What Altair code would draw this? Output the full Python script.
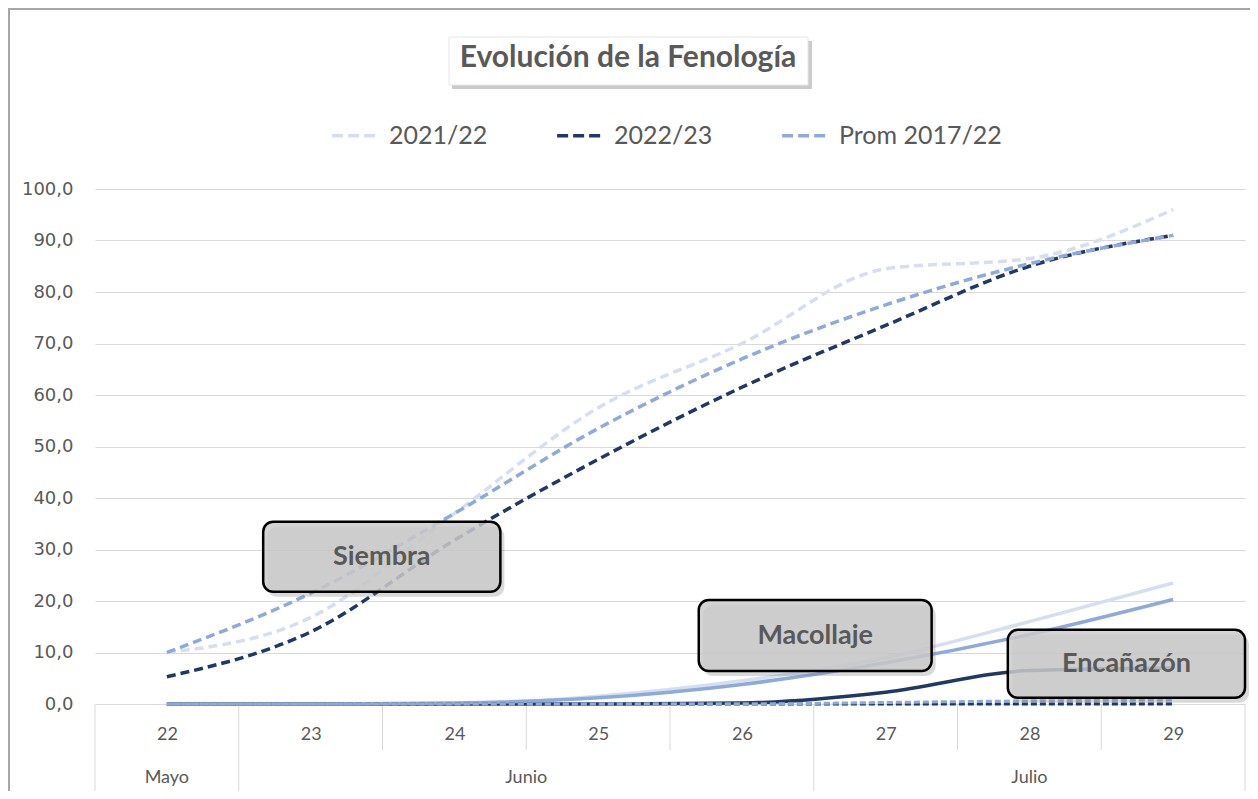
import altair as alt
import pandas as pd

# ---------------- data ----------------
days = ["22", "23", "24", "25", "26", "27", "28", "29"]
day_index = [0, 1, 2, 3, 4, 5, 6, 7]
months = ["Mayo", "Junio", "Julio"]
month_center = [0.0, 2.5, 6.0]
boundaries_full = [-0.5, 0.5, 4.5, 7.5]
boundaries_short = [1.5, 2.5, 3.5, 5.5, 6.5]

seasons = ["2021/22", "2022/23", "Prom 2017/22"]
season_colors = ["#d6dff1", "#203864", "#8eaadb"]

siembra_2122 = [10.0, 16.8, 37.0, 57.5, 70.0, 84.5, 86.5, 96.0]
siembra_2223 = [5.3, 14.0, 31.8, 47.5, 61.5, 73.5, 85.0, 91.0]
siembra_prom = [10.0, 21.5, 37.0, 53.5, 67.0, 77.5, 85.5, 91.0]

macollaje_2122 = [0.0, 0.0, 0.0, 1.5, 4.5, 9.0, 16.0, 23.5]
macollaje_2223 = [0.0, 0.0, 0.0, 0.0, 0.2, 2.3, 6.5, 7.0]
macollaje_prom = [0.0, 0.0, 0.2, 1.2, 3.8, 8.0, 13.5, 20.3]

encanazon_2122 = [0.0, 0.0, 0.0, 0.0, 0.0, 0.0, 0.2, 0.4]
encanazon_2223 = [0.0, 0.0, 0.0, 0.0, 0.0, 0.0, 0.0, 0.0]
encanazon_prom = [0.0, 0.0, 0.0, 0.0, 0.0, 0.3, 0.6, 0.8]

phases = ["Siembra", "Macollaje", "Encañazón"]
box_x1 = [0.67, 3.70, 5.85]
box_x2 = [2.32, 5.32, 7.50]
box_y1 = [21.8, 6.4, 1.2]
box_y2 = [35.4, 20.2, 14.4]

title_text = "Evolución  de la Fenología"

# ---------------- tables ----------------
def long_table(series):
    rows = []
    for season, vals in zip(seasons, series):
        for i, d, v in zip(day_index, days, vals):
            rows.append({"idx": i, "dia": d, "temporada": season, "valor": v})
    return pd.DataFrame(rows)

df_siembra = long_table([siembra_2122, siembra_2223, siembra_prom])
df_macollaje = long_table([macollaje_2122, macollaje_2223, macollaje_prom])
df_encanazon = long_table([encanazon_2122, encanazon_2223, encanazon_prom])

df_boxes = pd.DataFrame({
    "fase": phases, "x1": box_x1, "x2": box_x2, "y1": box_y1, "y2": box_y2,
    "xc": [(a + b) / 2 for a, b in zip(box_x1, box_x2)],
    "yc": [(a + b) / 2 for a, b in zip(box_y1, box_y2)],
})
df_months = pd.DataFrame({"mes": months, "pos": month_center})
df_bfull = pd.DataFrame({"pos": boundaries_full})
df_bshort = pd.DataFrame({"pos": boundaries_short})

W, H = 1150, 515
GREY_TXT = "#595959"
label_expr = "[" + ",".join("'%s'" % d for d in days) + "][datum.value]"

xscale = alt.Scale(domain=[-0.5, 7.5], nice=False, zero=False)
yscale = alt.Scale(domain=[0, 100], nice=False)

x_enc = alt.X("idx:Q", scale=xscale, axis=alt.Axis(
    values=day_index, labelExpr=label_expr, grid=False, ticks=False, domain=False,
    labelFont="Lato", labelFontSize=18, labelColor=GREY_TXT, labelPadding=21,
    title=None))
y_enc = alt.Y("valor:Q", scale=yscale, axis=alt.Axis(
    values=list(range(0, 101, 10)),
    labelExpr="replace(format(datum.value, '.1f'), '.', ',')",
    grid=True, gridColor="#d9d9d9", gridWidth=1, ticks=False, domain=False,
    labelFont="DejaVu Sans", labelFontSize=18, labelColor=GREY_TXT,
    labelPadding=22, title=None))

color_scale = alt.Scale(domain=seasons, range=season_colors)
color_enc = alt.Color("temporada:N", scale=color_scale, legend=alt.Legend(title=None))

siembra = alt.Chart(df_siembra).mark_line(
    strokeWidth=3.5, strokeDash=[9, 5], interpolate="monotone"
).encode(x=x_enc, y=y_enc, color=color_enc, detail="temporada:N")

macollaje = alt.Chart(df_macollaje).mark_line(
    strokeWidth=3.5, interpolate="monotone"
).encode(x="idx:Q", y="valor:Q", color=alt.Color("temporada:N", scale=color_scale, legend=None))

encanazon = alt.Chart(df_encanazon).mark_line(
    strokeWidth=3, strokeDash=[6, 3], interpolate="monotone"
).encode(x="idx:Q", y="valor:Q", color=alt.Color("temporada:N", scale=color_scale, legend=None))

# axis separators
sep_full = alt.Chart(df_bfull).mark_rule(color="#d9d9d9", strokeWidth=1).encode(
    x="pos:Q", y=alt.value(H), y2=alt.value(H + 92))
sep_short = alt.Chart(df_bshort).mark_rule(color="#d9d9d9", strokeWidth=1).encode(
    x="pos:Q", y=alt.value(H), y2=alt.value(H + 46))
month_text = alt.Chart(df_months).mark_text(
    font="Lato", fontSize=18, color=GREY_TXT, baseline="middle"
).encode(x="pos:Q", y=alt.value(H + 74), text="mes:N")

# annotation boxes
box_shadow = alt.Chart(df_boxes).mark_rect(
    fill="#808080", opacity=0.3, cornerRadius=10, xOffset=4, x2Offset=4, yOffset=5, y2Offset=5
).encode(x="x1:Q", x2="x2:Q", y="y1:Q", y2="y2:Q")
box = alt.Chart(df_boxes).mark_rect(
    fill="#cbcbcb", fillOpacity=0.82, stroke="#000000", strokeWidth=2.5, cornerRadius=10
).encode(x="x1:Q", x2="x2:Q", y="y1:Q", y2="y2:Q")
box_text = alt.Chart(df_boxes).mark_text(
    font="Lato", fontSize=27, fontWeight="bold", color=GREY_TXT, baseline="middle"
).encode(x="xc:Q", y="yc:Q", text="fase:N")

# title box and text
title_df = pd.DataFrame({"t": [title_text]})
title_shadow = alt.Chart(title_df).mark_rect(fill="#8c8c8c", opacity=0.45).encode(
    x=alt.value(357), x2=alt.value(717), y=alt.value(-148), y2=alt.value(-100))
title_box = alt.Chart(title_df).mark_rect(fill="#ffffff", stroke="#e6e6e6", strokeWidth=1).encode(
    x=alt.value(354), x2=alt.value(713), y=alt.value(-152), y2=alt.value(-104))
title_mark = alt.Chart(title_df).mark_text(
    font="Lato", fontSize=30, fontWeight="bold", color=GREY_TXT, baseline="middle", align="center"
).encode(x=alt.value(533), y=alt.value(-131), text="t:N")

# outer border
border = alt.Chart(title_df).mark_rect(fill=None, stroke="#a6a6a6", strokeWidth=2).encode(
    x=alt.value(-86), x2=alt.value(W + 40), y=alt.value(-180), y2=alt.value(H + 120))

chart = alt.layer(
    border, sep_full, sep_short, month_text,
    siembra, macollaje, encanazon,
    box_shadow, box, box_text,
    title_shadow, title_box, title_mark,
).properties(
    width=W, height=H,
    autosize=alt.AutoSizeParams(type="none"),
    padding={"left": 87, "top": 181, "right": 5, "bottom": 87},
    background="#ffffff",
).configure_view(stroke=None).configure_legend(
    orient="none", legendX=235, legendY=-78, direction="horizontal",
    symbolType="stroke", symbolStrokeWidth=3.5, symbolDash=[11, 5], symbolSize=2000,
    labelFont="Lato", labelFontSize=25, labelColor=GREY_TXT, labelOffset=10,
    columnPadding=62, labelLimit=300,
)

chart.save("out.html", embed_options={"renderer": "svg", "actions": False})
